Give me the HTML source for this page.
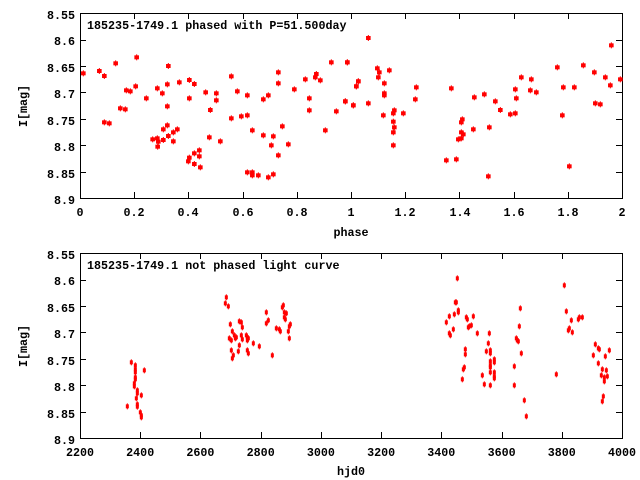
<!DOCTYPE html>
<html><head><meta charset="utf-8"><style>
html,body{margin:0;padding:0;background:#fff;}
svg{display:block;}
text{font-family:"Liberation Mono","DejaVu Sans Mono",monospace;font-weight:bold;font-size:11.7px;fill:#000;}
</style></head><body>
<svg id="s" width="640" height="480" xmlns="http://www.w3.org/2000/svg">
<rect width="640" height="480" fill="#fff"/>
<g stroke="#000" stroke-width="1" fill="none" shape-rendering="crispEdges">
<rect x="80.5" y="13.5" width="542" height="185"/>
<rect x="80.5" y="253.5" width="542" height="185"/>
<path id="ticks" d=""/>
</g>
<g text-anchor="end">
<text x="75" y="19">8.55</text><text x="75" y="45">8.6</text><text x="75" y="72">8.65</text><text x="75" y="98">8.7</text><text x="75" y="125">8.75</text><text x="75" y="151">8.8</text><text x="75" y="178">8.85</text><text x="75" y="204">8.9</text>
<text x="75" y="259">8.55</text><text x="75" y="285">8.6</text><text x="75" y="312">8.65</text><text x="75" y="338">8.7</text><text x="75" y="365">8.75</text><text x="75" y="391">8.8</text><text x="75" y="418">8.85</text><text x="75" y="444">8.9</text>
</g>
<g text-anchor="middle">
<text x="80" y="216">0</text><text x="134" y="216">0.2</text><text x="188" y="216">0.4</text><text x="243" y="216">0.6</text><text x="297" y="216">0.8</text><text x="351" y="216">1</text><text x="405" y="216">1.2</text><text x="460" y="216">1.4</text><text x="514" y="216">1.6</text><text x="568" y="216">1.8</text><text x="622" y="216">2</text>
<text x="80" y="456">2200</text><text x="140.2" y="456">2400</text><text x="200.4" y="456">2600</text><text x="260.7" y="456">2800</text><text x="320.9" y="456">3000</text><text x="381.1" y="456">3200</text><text x="441.3" y="456">3400</text><text x="501.6" y="456">3600</text><text x="561.8" y="456">3800</text><text x="622" y="456">4000</text>
<text x="351" y="236">phase</text>
<text x="351" y="475">hjd0</text>
<text transform="translate(27,106) rotate(-90)">I[mag]</text>
<text transform="translate(27,346) rotate(-90)">I[mag]</text>
</g>
<text x="87" y="29">185235-1749.1 phased with P=51.500day</text>
<text x="87" y="269">185235-1749.1 not phased light curve</text>
<g id="pts" fill="#f00" stroke="#f00"></g>
</svg>
<script>
(function(){
var NS="http://www.w3.org/2000/svg";
var d="";
var ys=[13,39.5,66,92.4,118.9,145.3,171.8,198];
[0,240].forEach(function(o){
 ys.forEach(function(y,i){if(i>0&&i<7){y=Math.round(y)+o+0.5;d+="M80 "+y+"h6M622 "+y+"h-6";}});
 var n=o?9:10;
 for(var i=1;i<n;i++){var x=Math.round(80+i*542/n)+0.5;d+="M"+x+" "+(198+o)+"v-6M"+x+" "+(13+o)+"v6";}
});
document.getElementById('ticks').setAttribute('d',d);
var g=document.getElementById('pts');
function add(arr,ox,oy,big){
 for(var i=0;i<arr.length;i+=2){
  var x=ox+arr[i]/3,y=oy+arr[i+1]/3;
  var r=document.createElementNS(NS,'rect');
  if(big){r.setAttribute('x',x-2.3);r.setAttribute('y',y-2);r.setAttribute('width',4.6);r.setAttribute('height',4);}
  else{r.setAttribute('x',x-1.5);r.setAttribute('y',y-2);r.setAttribute('width',3);r.setAttribute('height',4);}
  r.setAttribute('stroke','none');g.appendChild(r);
  var l=document.createElementNS(NS,'line');
  l.setAttribute('x1',x);l.setAttribute('x2',x);l.setAttribute('y1',y-3);l.setAttribute('y2',y+3);l.setAttribute('stroke-width',1);
  g.appendChild(l);
 }
}
add([70,190,118,183,133,198,167,160,133,337,148,340,181,295,196,298,199,241,211,244,227,229,230,142,259,265,292,235,307,250,325,168,322,223,322,289,278,388,292,385,293,410,295,395,310,390,310,358,322,346,325,378,340,367,352,358,340,394,358,217,388,210,388,265,403,222,437,247,469,250,469,271,451,300,448,382,481,394,385,454,388,443,403,430,403,462,418,421,418,439,421,472,514,199,532,244,514,325,544,319,562,256,562,316,577,361,562,487,577,487,577,496,595,496,610,268,625,256,610,376,640,379,634,406,655,187,655,220,667,349,655,436,640,493,625,502,685,403,703,238,736,208,748,265,748,301,769,192,766,202,781,211,814,157,796,361,829,304,856,274,862,157,880,286,889,229,895,214],60,10,true);
add([16,274,22,157,40,286,49,229,55,214,85,84,85,280,112,175,115,202,118,187,133,220,133,250,133,256,130,316,148,181,160,310,163,301,160,335,163,352,160,367,160,406,190,310,229,232,226,268,319,451,334,235,349,448,355,388,364,385,364,337,367,328,364,367,370,373,400,358,403,262,433,253,448,352,445,499,466,274,481,300,511,313,526,310,526,238,529,265,544,202,571,241,574,208,589,247,652,172,670,232,667,316,688,469,703,232,730,166,763,187,766,280,781,283,796,202,811,226,814,106,841,208],340,10,true);
add([202,469,214,337,226,346,226,358,226,367,226,382,226,388,223,400,223,409,229,445,232,421,232,430,232,463,232,470,244,436,241,487,244,496,244,502,253,361,499,142,496,160,505,169,511,223,508,265,514,271,514,301,517,244,517,325,520,316,523,256,526,265,529,262,535,304,538,286,538,214,544,217,544,256,547,232,547,268,559,256,562,262,562,271,562,301,565,265,565,310,580,280,598,289,619,187,619,220,625,211,637,316,649,235,658,238,661,244,667,172,670,166,673,187,679,190,673,202,676,208,685,244,688,229,691,223,688,265],60,250,false);
add([319,217,328,199,328,250,331,256,340,238,343,193,346,157,349,157,352,85,355,181,355,187,367,388,370,358,373,352,376,298,376,313,379,202,382,208,385,232,388,229,394,226,400,199,412,250,427,376,433,403,439,304,445,280,448,250,451,301,451,310,451,334,451,346,451,352,451,367,451,406,463,328,463,337,463,367,463,379,463,385,523,349,523,406,529,265,532,271,535,274,538,229,541,175,544,310,553,451,559,499,649,373,673,106,679,184,685,241,688,235,694,211,697,247,715,208,718,202,727,202,760,316,766,283,775,340,775,295,778,298,784,376,787,358,787,454,790,439,793,382,793,394,796,319,799,361,802,379,808,301],340,250,false);
})();
</script>
</body></html>
